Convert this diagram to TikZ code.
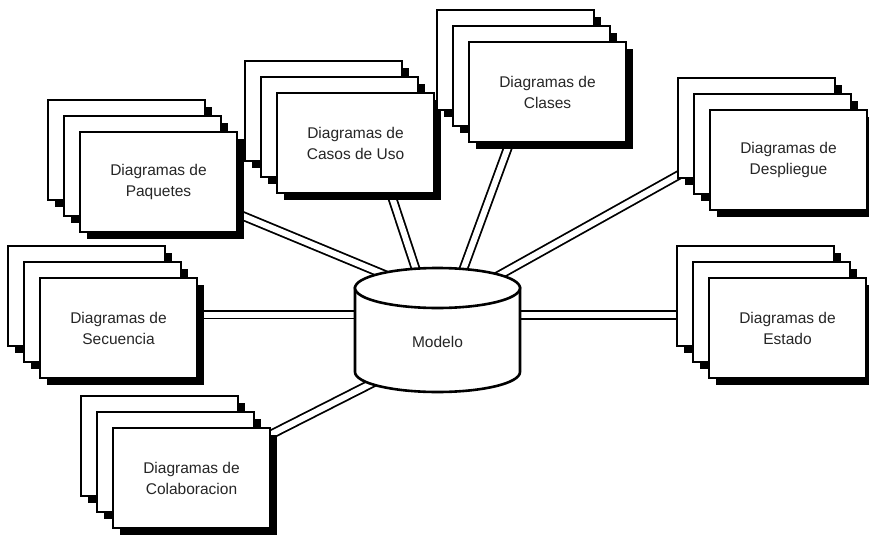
\documentclass[tikz,border=0pt]{standalone}
\usepackage{fontspec}
\setmainfont{Liberation Sans}
\begin{document}
\begin{tikzpicture}[x=1pt,y=-1pt,
  cardbox/.style={draw=black,fill=white,line width=1.6pt},
  cardnode/.style={cardbox,rectangle,minimum width=157pt,minimum height=100pt,
    inner sep=0pt,outer sep=0pt,align=center,text=black!85,
    font=\fontsize{15.5}{21}\selectfont},
  shade/.style={fill=black},
  link/.style={draw=black,line width=1.8pt,double=white,double distance=6pt},
  drum/.style={draw=black,fill=white,line width=2.6pt}]

\useasboundingbox (0,0) rectangle (869,538);
\fill[white] (0,0) rectangle (869,538);

% one stack of three sheets, front sheet's top-left corner at (#2,#3)
\newcommand\cardstack[4]{%
  \begin{scope}[shift={(#2,#3)}]
    \foreach \off in {-32,-16}{%
      \fill[shade] (\off+7,\off+7) rectangle +(157,100);
      \filldraw[cardbox] (\off,\off) rectangle +(157,100);
    }
    \fill[shade] (7,7) rectangle +(157,100);
    \node[cardnode,anchor=north west] (#1) at (0,0) {#4};
  \end{scope}}

% ends of the connectors
\coordinate (pq-a) at (235,212.7);  \coordinate (pq-b) at (395,279);
\coordinate (cu-a) at (389,188);    \coordinate (cu-b) at (421,285);
\coordinate (cl-a) at (510.7,140);  \coordinate (cl-b) at (457.5,285);
\coordinate (de-a) at (690,168.7);  \coordinate (de-b) at (495,277.6);
\coordinate (es-a) at (690,315);    \coordinate (es-b) at (500,315);
\coordinate (se-a) at (190,314.5);  \coordinate (se-b) at (375,314.5);
\coordinate (co-a) at (262,439);    \coordinate (co-b) at (400,369);

\foreach \p in {pq,cu,cl,de,es,se,co}{\draw[link] (\p-a) -- (\p-b);}

% diagram stacks
\cardstack{paquetes}{80}{132}{Diagramas de\\Paquetes}
\cardstack{casos}{277}{93}{Diagramas de\\Casos de Uso}
\cardstack{clases}{469}{42}{Diagramas de\\Clases}
\cardstack{despliegue}{710}{110}{Diagramas de\\Despliegue}
\cardstack{estado}{709}{278}{Diagramas de\\Estado}
\cardstack{secuencia}{40}{278}{Diagramas de\\Secuencia}
\cardstack{colaboracion}{113}{428}{Diagramas de\\Colaboracion}

% model repository
\filldraw[drum] (355,288) -- (355,372)
  arc[start angle=180,end angle=0,x radius=82.5,y radius=20]
  -- (520,288) -- cycle;
\filldraw[drum] (437.5,288) ellipse[x radius=82.5,y radius=20];
\node[text=black!85,font=\fontsize{15.5}{18}\selectfont] (modelo) at (437.5,342) {Modelo};

\end{tikzpicture}
\end{document}
